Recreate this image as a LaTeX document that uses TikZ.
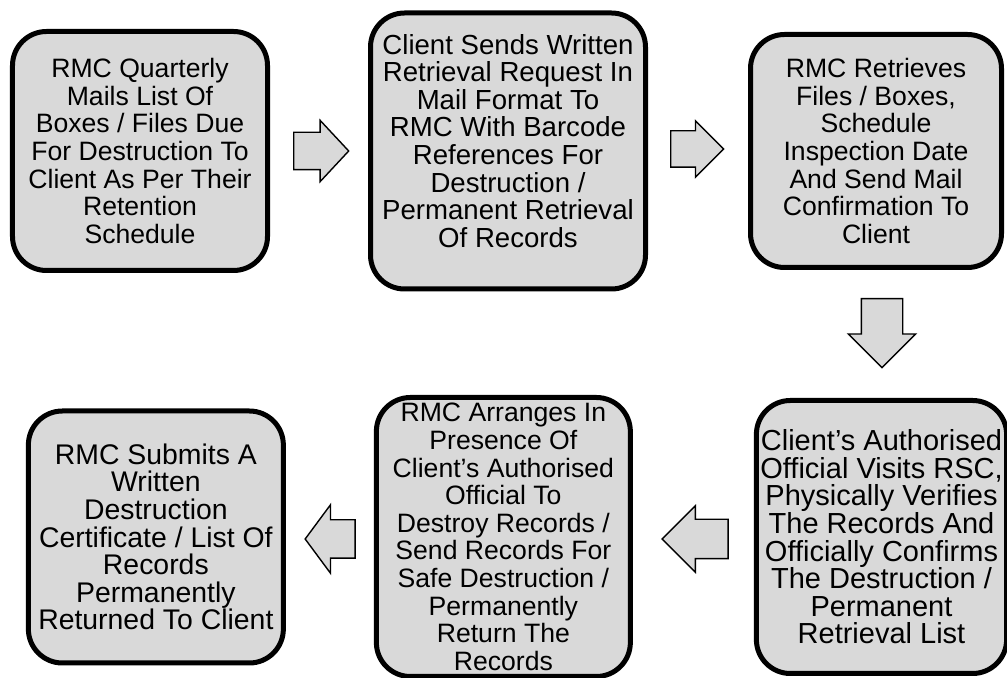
\documentclass[tikz,border=0pt]{standalone}
\usepackage{fontspec}
\setmainfont{Liberation Sans}
\usepackage{tikz}
\usetikzlibrary{positioning,shapes.arrows,calc}
\definecolor{boxgray}{HTML}{D9D9D9}

\begin{document}
\begin{tikzpicture}[node distance=50pt and 50pt,
  stage/.style={draw=black,line width=2.5pt,fill=boxgray,rounded corners=17pt,align=center,inner sep=2pt,font=\fontsize{13.3}{13.8}\selectfont},
  flow/.style={draw=black,line width=0.7pt,fill=boxgray,single arrow,single arrow head extend=6pt,inner xsep=0pt,inner ysep=9pt,anchor=tail}]
\useasboundingbox (-70pt,-263.5pt) rectangle (433.5pt,75.5pt);
% top row, left to right
\node[stage,minimum width=127.5pt,minimum height=119.5pt] (s1) {RMC Quarterly\\Mails List Of\\Boxes / Files Due\\For Destruction To\\Client As Per Their\\Retention\\Schedule};
\node[stage,minimum width=137.5pt,minimum height=138pt,right=49pt of s1,font=\fontsize{13.8}{13.8}\selectfont] (s2) {Client Sends Written\\Retrieval Request In\\Mail Format To\\RMC With Barcode\\References For\\Destruction /\\Permanent Retrieval\\Of Records\\[-3.5pt]};
\node[stage,minimum width=125.5pt,minimum height=116.5pt,right=50pt of s2] (s3) {RMC Retrieves\\Files / Boxes,\\Schedule\\Inspection Date\\And Send Mail\\Confirmation To\\Client};
% bottom row, right to left
\node[stage,minimum width=121pt,minimum height=136.5pt,below=64pt of s3,xshift=2.75pt,font=\fontsize{14.5}{13.8}\selectfont] (s4) {Client’s Authorised\\Official Visits RSC,\\Physically Verifies\\The Records And\\Officially Confirms\\The Destruction /\\Permanent\\Retrieval List};
\node[stage,minimum width=127pt,minimum height=139.5pt,left=60.5pt of s4] (s5) {RMC Arranges In\\Presence Of\\Client’s Authorised\\Official To\\Destroy Records /\\Send Records For\\Safe Destruction /\\Permanently\\Return The\\Records};
\node[stage,minimum width=127.5pt,minimum height=126pt,left=44pt of s5,font=\fontsize{14.2}{13.8}\selectfont] (s6) {RMC Submits A\\Written\\Destruction\\Certificate / List Of\\Records\\Permanently\\Returned To Client};
% block arrows between the steps
\node[flow,minimum height=27.5pt,single arrow tip angle=94] (a1) at ($(s1.east)+(11.5pt,0)$) {};
\node[flow,minimum height=26.5pt,inner ysep=8.75pt,single arrow head extend=5pt] (a2) at ($(s2.east)+(11pt,1pt)$) {};
\node[flow,minimum height=34.5pt,inner ysep=10pt,single arrow head extend=6.5pt,rotate=-90] (a3) at ($(s3.south)+(3pt,-14pt)$) {};
\node[flow,minimum height=33pt,inner ysep=9.5pt,single arrow head extend=6.75pt,rotate=180] (a4) at ($(s4.west)+(-12.5pt,-1pt)$) {};
\node[flow,minimum height=25pt,inner ysep=9.25pt,single arrow head extend=7.5pt,single arrow tip angle=107,rotate=180] (a5) at ($(s5.west)+(-9pt,-1pt)$) {};
\end{tikzpicture}
\end{document}
